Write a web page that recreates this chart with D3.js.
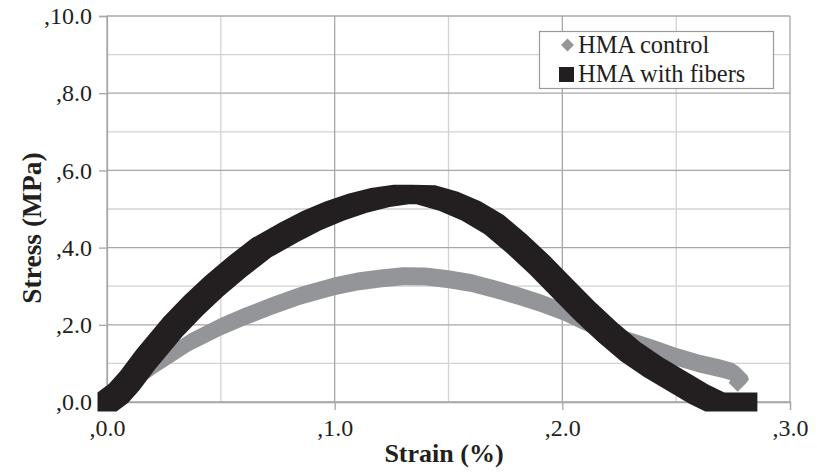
<!DOCTYPE html>
<html>
<head>
<meta charset="utf-8">
<script src="https://cdn.jsdelivr.net/npm/d3@7"></script>
<style>
  body { margin: 0; background: #fff; }
  svg { display: block; }
  text { font-family: "Liberation Serif", "Times New Roman", serif; fill: #231f20; }
</style>
</head>
<body>
<svg id="chart" width="817" height="472"></svg>
<script>
// values
const controlStrain = [0, 0.1, 0.22, 0.3, 0.364, 0.5, 0.6, 0.73, 0.85, 1.0, 1.1, 1.2, 1.3, 1.4, 1.5, 1.6, 1.7, 1.8, 1.9, 2.0, 2.1, 2.2, 2.3, 2.4, 2.5, 2.6, 2.7, 2.75, 2.775, 2.78, 2.77];
const controlStress = [0, 0.5, 1.0, 1.3, 1.55, 1.95, 2.2, 2.5, 2.75, 3.0, 3.12, 3.2, 3.26, 3.25, 3.18, 3.08, 2.93, 2.76, 2.57, 2.35, 2.07, 1.8, 1.57, 1.38, 1.17, 1.0, 0.86, 0.78, 0.68, 0.58, 0.5];

const fibersStrain = [0, 0.05, 0.1, 0.17, 0.29, 0.38, 0.47, 0.57, 0.68, 0.8, 0.9, 1.0, 1.1, 1.2, 1.3, 1.4, 1.5, 1.6, 1.7, 1.8, 1.9, 2.0, 2.1, 2.2, 2.3, 2.4, 2.5, 2.6, 2.67, 2.815];
const fibersStress = [0, 0.22, 0.55, 1.1, 1.95, 2.5, 3.0, 3.5, 4.0, 4.4, 4.7, 4.95, 5.15, 5.3, 5.38, 5.37, 5.2, 4.95, 4.6, 4.1, 3.55, 2.95, 2.35, 1.8, 1.3, 0.9, 0.55, 0.2, 0, 0];

const seriesNames = ["HMA control", "HMA with fibers"];
const seriesColors = ["#939598", "#231f20"];

const xTicks = [0, 1, 2, 3];
const xTickLabels = [",0.0", ",1.0", ",2.0", ",3.0"];
const xMinor = [0.5, 1.5, 2.5];
const yTicks = [0, 2, 4, 6, 8, 10];
const yTickLabels = [",0.0", ",2.0", ",4.0", ",6.0", ",8.0", ",10.0"];
const yMinor = [1, 3, 5, 7, 9];

const xTitle = "Strain (%)";
const yTitle = "Stress (MPa)";

const svg = d3.select("#chart");
const plotLeft = 107, plotRight = 790, plotTop = 16, plotBottom = 402;

const x = d3.scaleLinear().domain([0, 3]).range([plotLeft, plotRight]);
const y = d3.scaleLinear().domain([0, 10]).range([plotBottom, plotTop]);

// grid
const grid = svg.append("g");
grid.selectAll(".vminor").data(xMinor).enter().append("line")
  .attr("x1", d => x(d)).attr("x2", d => x(d)).attr("y1", plotTop).attr("y2", plotBottom)
  .attr("stroke", "#d2d2d2").attr("stroke-width", 1.3);
grid.selectAll(".hminor").data(yMinor).enter().append("line")
  .attr("x1", plotLeft).attr("x2", plotRight).attr("y1", d => y(d)).attr("y2", d => y(d))
  .attr("stroke", "#d2d2d2").attr("stroke-width", 1.3);
grid.selectAll(".vmajor").data(xTicks).enter().append("line")
  .attr("x1", d => x(d)).attr("x2", d => x(d)).attr("y1", plotTop).attr("y2", plotBottom)
  .attr("stroke", "#a7a7a7").attr("stroke-width", 1.3);
grid.selectAll(".hmajor").data(yTicks).enter().append("line")
  .attr("x1", plotLeft).attr("x2", plotRight).attr("y1", d => y(d)).attr("y2", d => y(d))
  .attr("stroke", "#a7a7a7").attr("stroke-width", 1.3);

// axes
const xAxis = d3.axisBottom(x).tickValues(xTicks).tickSize(8).tickPadding(9)
  .tickFormat((d, i) => xTickLabels[i]);
const yAxis = d3.axisLeft(y).tickValues(yTicks).tickSize(8).tickPadding(7)
  .tickFormat((d, i) => yTickLabels[i]);

const gx = svg.append("g").attr("transform", "translate(0," + plotBottom + ")").call(xAxis);
const gy = svg.append("g").attr("transform", "translate(" + plotLeft + ",0)").call(yAxis);
[gx, gy].forEach(g => {
  g.select(".domain").attr("stroke", "#a7a7a7").attr("stroke-width", 1.3);
  g.selectAll(".tick line").attr("stroke", "#a7a7a7").attr("stroke-width", 1.3);
  g.selectAll(".tick text").attr("font-size", 24)
    .attr("font-family", "'Liberation Serif', 'Times New Roman', serif").attr("fill", "#231f20");
});

// series drawn as dense markers: each segment is the hull of two markers
const squareMarker = (px, py, s) => [[px - s, py - s], [px + s, py - s], [px + s, py + s], [px - s, py + s]];
const diamondMarker = (px, py, s) => [[px, py - s], [px + s, py], [px, py + s], [px - s, py]];

function sweptPath(xs, ys, marker, size) {
  let d = "";
  for (let i = 0; i < xs.length - 1; i++) {
    const a = marker(x(xs[i]), y(ys[i]), size);
    const b = marker(x(xs[i + 1]), y(ys[i + 1]), size);
    const hull = d3.polygonHull(a.concat(b));
    d += "M" + hull.map(p => p[0].toFixed(2) + "," + p[1].toFixed(2)).join("L") + "Z";
  }
  return d;
}

svg.append("path")
  .attr("d", sweptPath(controlStrain, controlStress, diamondMarker, 9))
  .attr("fill", seriesColors[0]);
svg.append("path")
  .attr("d", sweptPath(fibersStrain, fibersStress, squareMarker, 9.5))
  .attr("fill", seriesColors[1]);

// axis titles
svg.append("text")
  .attr("x", 444).attr("y", 462)
  .attr("text-anchor", "middle")
  .attr("font-size", 26).attr("font-weight", "bold")
  .text(xTitle);

svg.append("text")
  .attr("transform", "translate(41,228) rotate(-90)")
  .attr("text-anchor", "middle")
  .attr("font-size", 27.5).attr("font-weight", "bold")
  .text(yTitle);

// legend
const legend = svg.append("g");
legend.append("rect")
  .attr("x", 539.5).attr("y", 31.5).attr("width", 234).attr("height", 57)
  .attr("fill", "#fff").attr("stroke", "#9a9a9a").attr("stroke-width", 1.2);

const legendItems = legend.selectAll(".item").data(seriesNames).enter().append("g")
  .attr("transform", (d, i) => "translate(0," + (i * 29) + ")");
legendItems.append("path")
  .attr("transform", (d, i) => i === 0 ? "translate(567.5,45)" : "translate(566.5,45.5)")
  .attr("d", (d, i) => i === 0
    ? "M0,-6.5L6.5,0L0,6.5L-6.5,0Z"
    : "M-7.5,-7.5H7.5V7.5H-7.5Z")
  .attr("fill", (d, i) => seriesColors[i]);
legendItems.append("text")
  .attr("x", 578).attr("y", 53)
  .attr("font-size", 24.5)
  .text(d => d);
</script>
</body>
</html>
